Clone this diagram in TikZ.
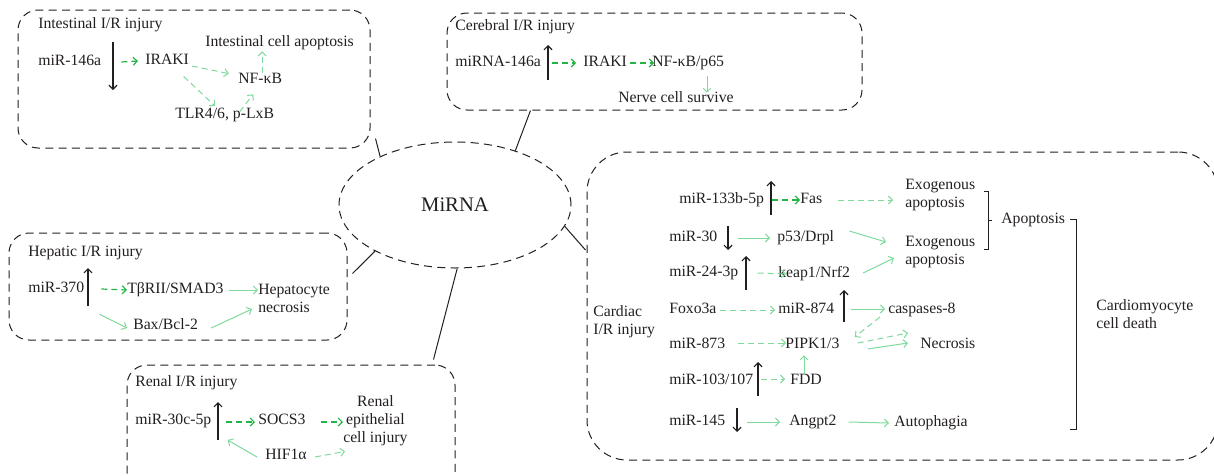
\documentclass[tikz,border=0pt]{standalone}
\usepackage{fontspec}
\setmainfont{Liberation Serif}
\usetikzlibrary{arrows.meta,shapes.geometric,calc,fit}
\definecolor{dgreen}{RGB}{35,180,70}
\definecolor{lgreen}{RGB}{125,218,155}
\definecolor{ink}{RGB}{35,31,32}
\newcommand{\dfs}{\fontsize{11.8}{13.5}\selectfont}
\begin{document}
\begin{tikzpicture}[x=0.75pt,y=-0.75pt,
  every node/.style={text=ink},
  tx/.style={inner sep=0pt, anchor=west, font=\dfs, text height=8pt, text depth=2.5pt},
  txm/.style={inner sep=0pt, anchor=west, font=\dfs, align=left},
  ibx/.style={draw=ink, line width=0.75pt, dash pattern=on 6pt off 4pt, rounded corners=15pt, inner sep=0pt},
  myarr/.style={-{Straight Barb[length=3pt,width=6pt]}},
  blk/.style={myarr, draw=ink, line width=0.9pt},
  dga/.style={myarr, draw=dgreen, line width=0.9pt, dash pattern=on 4.5pt off 3pt},
  lga/.style={myarr, draw=lgreen, line width=0.75pt},
  lgd/.style={lga, dash pattern=on 4.5pt off 3pt},
  lnk/.style={draw=ink, line width=0.75pt},
]
\useasboundingbox (0,0) rectangle (1214,475);
\clip (0,0) rectangle (1214,475);

% central ellipse
\node[ellipse, draw=ink, line width=0.75pt, dash pattern=on 6pt off 4pt, minimum width=174pt, minimum height=94.5pt, inner sep=0pt, font=\fontsize{15.5}{18}\selectfont] (mi) at (455,205) {MiRNA};

% ---------------- Intestinal
\node[ibx, fit={(18,10) (370,148)}] (ibox) {};
\node[tx] (it) at (38,25) {Intestinal I/R injury};
\node[tx] (im) at (38,62) {miR-146a};
\node[tx] (iir) at (145,61) {IRAKI};
\node[tx] (iap) at (205,43) {Intestinal cell apoptosis};
\node[tx] (inf) at (238,80) {NF-κB};
\node[tx] (itl) at (175,115) {TLR4/6, p-LxB};
\draw[blk] (113,42) -- (113,90);
\draw[dga] ($(im.east)+(20,0)$) -- ($(iir.west)+(-7,0)$);
\draw[lgd, shorten <=2pt, shorten >=7pt] (iir) -- (inf);
\draw[lgd, shorten <=9pt, shorten >=2pt] (iir) -- (itl);
\draw[lgd] ($(itl.north)+(15,4)$) -- ($(inf.south)+(-7,7)$);
\draw[lgd] ($(inf.north)+(2,0)$) -- ($(inf.north |- iap.south)+(2,1)$);

% ---------------- Cerebral
\node[ibx, fit={(447,13) (862,110)}] (cbx) {};
\node[tx] (ct) at (455,27) {Cerebral I/R injury};
\node[tx] (cm) at (455,63) {miRNA-146a};
\node[tx] (cir) at (583,63) {IRAKI};
\node[tx] (cnf) at (652,63) {NF-κB/p65};
\node[tx] (cns) at (618,99) {Nerve cell survive};
\draw[blk] (548,80) -- (548,45);
\draw[dga] ($(cm.east)+(11,0)$) -- ($(cir.west)+(-7,0)$);
\draw[dga] ($(cir.east)+(3,0)$) -- ($(cnf.west)+(2,0)$);
\draw[lga] ($(cnf.south west)+(55,6)$) -- ($(cns.north west)+(89,1)$);

% ---------------- Hepatic
\node[ibx, fit={(9,233) (347,340)}] (hbx) {};
\node[tx] (ht) at (28,253) {Hepatic I/R injury};
\node[tx] (hm) at (28,289) {miR-370};
\node[tx] (hs) at (127,290) {TβRII/SMAD3};
\node[txm] (hn) at (258,298) {Hepatocyte\\necrosis};
\node[tx] (hb) at (133,326) {Bax/Bcl-2};
\draw[blk] (88,306) -- (88,268);
\draw[dga] ($(hm.east)+(17,0)$) -- (hs.west);
\draw[lga] ($(hs.east)+(5,0)$) -- (hs.east -| hn.west);
\draw[lga] ($(hm.south east)+(15,18)$) -- ($(hb.west)+(-6,2)$);
\draw[lga] ($(hb.east)+(13,2)$) -- ($(hn.west)+(-6,11)$);

% ---------------- Renal
\node[ibx, fit={(127,365) (455,500)}] (rbx) {};
\node[tx] (rt) at (135,383) {Renal I/R injury};
\node[tx] (rm) at (135,421) {miR-30c-5p};
\node[tx] (rs) at (258,421) {SOCS3};
\node[txm, align=center] (rr) at (343,421) {Renal\\epithelial\\cell injury};
\node[tx] (rh) at (265,456) {HIF1α};
\draw[blk] (218,440) -- (218,402);
\draw[dga] ($(rm.east)+(14,1)$) -- ($(rs.west)+(-3,1)$);
\draw[dga] ($(rs.east)+(15,1)$) -- ($(rr.west)+(0,1)$);
\draw[lga] ($(rh.west)+(-8,1)$) -- ($(rm.east)+(16,19)$);
\draw[lgd] ($(rh.east)+(8,1)$) -- ($(rr.south west)+(2,5)$);

% ---------------- Cardiac
\node[ibx, rounded corners=30pt, fit={(587,152) (1218,460)}] (kbx) {};
\node[txm] (kc) at (593,322) {Cardiac\\I/R injury};
\node[tx] (k1) at (679,200) {miR-133b-5p};
\node[tx] (kfas) at (800,200) {Fas};
\node[txm] (ke1) at (905,195) {Exogenous\\apoptosis};
\node[tx] (k2) at (669,238) {miR-30};
\node[tx] (kp53) at (777,238) {p53/Drpl};
\node[txm] (ke2) at (905,252) {Exogenous\\apoptosis};
\node[tx] (k3) at (669,273) {miR-24-3p};
\node[tx] (kkeap) at (778,274) {keap1/Nrf2};
\node[tx] (k4) at (669,310) {Foxo3a};
\node[tx] (k874) at (778,310) {miR-874};
\node[tx] (kcas) at (888,310) {caspases-8};
\node[tx] (k5) at (669,345) {miR-873};
\node[tx] (kpip) at (785,345) {PIPK1/3};
\node[tx] (knec) at (920,345) {Necrosis};
\node[tx] (k6) at (669,381) {miR-103/107};
\node[tx] (kfdd) at (790,381) {FDD};
\node[tx] (k7) at (669,422) {miR-145};
\node[tx] (kang) at (789,422) {Angpt2};
\node[tx] (kaut) at (894,423) {Autophagia};
\node[tx] (kapo) at (1001,220) {Apoptosis};
\node[txm] (kcd) at (1096,314) {Cardiomyocyte\\cell death};

\draw[blk] (771,215) -- (771,181);
\draw[blk] (728,226) -- (728,250);
\draw[blk] (746,290) -- (746,256);
\draw[blk] (844,322) -- (844,290);
\draw[blk] (758,396) -- (758,362);
\draw[blk] (737,408) -- (737,432);

\draw[dga] ($(k1.east)+(8,0)$) -- (kfas.west);
\draw[lgd, shorten <=12pt, shorten >=9pt] (kfas.east) -- (kfas.east -| ke1.west);
\draw[lga] ($(k2.east)+(20,0)$) -- ($(kp53.west)+(-7,0)$);
\draw[lga] ($(kp53.east)+(15,-7)$) -- ($(ke2.west)+(-19,-10)$);
\draw[lgd] ($(k3.east)+(19,0)$) -- ($(kkeap.west)+(8,0)$);
\draw[lga] ($(kkeap.east)+(13,-1)$) -- ($(ke2.west)+(-11,6)$);
\draw[lgd] ($(k4.east)+(3,0)$) -- ($(k874.west)+(-3,0)$);
\draw[lga] ($(k874.east)+(17,-1)$) -- ($(kcas.west)+(-3,-1)$);
\draw[lgd] ($(kcas.west)+(-8,7)$) -- ($(kpip.east)+(15,-8)$);
\draw[lgd] ($(k5.east)+(13,-2)$) -- ($(kpip.west)+(1,-2)$);
\draw[lgd] ($(kpip.east)+(18,-2)$) -- ($(knec.west)+(-12,-12)$);
\draw[lga] ($(kpip.east)+(28,4)$) -- ($(knec.west)+(-12,-2)$);
\draw[lgd] ($(k6.east)+(8,-2)$) -- ($(kfdd.west)+(-5,-2)$);
\draw[lga] ($(kfdd.north)+(-2,0)$) -- ($(kfdd.north |- kpip.south)+(-2,3)$);
\draw[lga] ($(k7.east)+(22,0)$) -- ($(kang.west)+(-9,0)$);
\draw[lga] ($(kang.east)+(12,0)$) -- ($(kaut.west)+(-5,0)$);

% brackets
\draw[lnk] (984,191) -- (988,191) -- (988,249) -- (984,249);
\draw[lnk] (988,220) -- (992,220);
\draw[lnk] (1070,219) -- (1076,219) -- (1076,429) -- (1070,429);

% links to MiRNA
\draw[lnk] ($(ibox.south east)+(5,-10)$) -- (mi.147);
\draw[lnk] ($(cbx.south west)+(84,0)$) -- (mi.42);
\draw[lnk] ($(hbx.east)+(5,-13)$) -- (mi.210);
\draw[lnk] ($(rbx.north east)+(-22,-5)$) -- (mi.-88);
\draw[lnk] ($(kbx.west)+(-1,-56)$) -- (mi.-11);
\end{tikzpicture}
\end{document}
